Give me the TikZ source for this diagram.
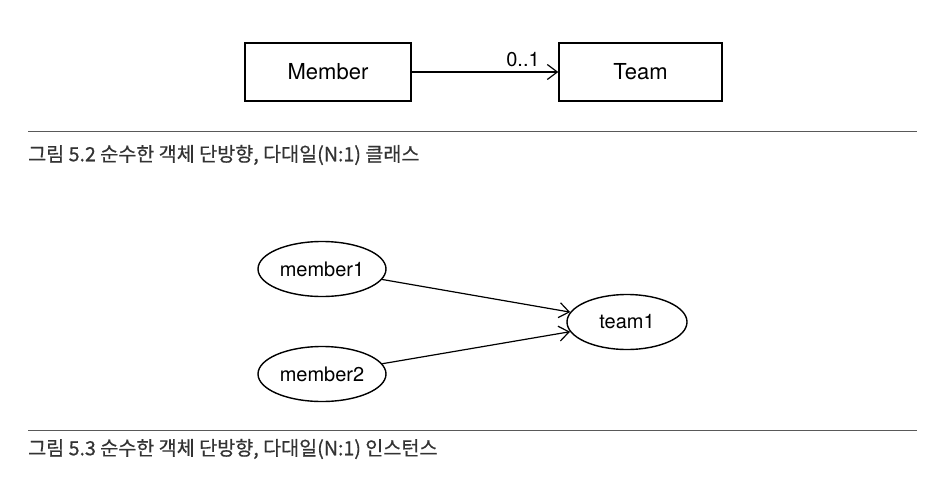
\documentclass[tikz,border=0pt]{standalone}
\usepackage{fontspec}
\setmainfont{TeX Gyre Heros}
\newfontfamily\krfont{Noto Sans CJK KR}[FakeBold=0.6]
\usetikzlibrary{arrows.meta,shapes.geometric}
\begin{document}
\begin{tikzpicture}[x=1pt,y=-1pt,
  cls/.style={draw=black,line width=1.4pt,minimum width=166pt,minimum height=58pt,inner sep=0pt,font=\fontsize{22}{24}\selectfont},
  obj/.style={draw=black,ellipse,line width=1.4pt,inner sep=0pt,font=\fontsize{20}{22}\selectfont},
  conn/.style={line width=1.2pt,-{Straight Barb[length=10pt,width=15pt,line width=1.2pt]}},
  rule/.style={line width=1pt,draw=black!65},
  captext/.style={anchor=west,inner sep=0pt,text=black!80,font=\krfont\fontsize{19.6}{22}\selectfont}]
\useasboundingbox (0,0) rectangle (944,490);
\node[cls] (member) at (328,72) {Member};
\node[cls,minimum width=163pt] (team) at (640.5,72) {Team};
\draw[conn] (member) -- (team);
\node[font=\fontsize{20}{22}\selectfont,anchor=base,inner sep=0pt] (mult) at (523,66) {0..1};
\coordinate (r1a) at (28,131);
\coordinate (r1b) at (917,131);
\draw[rule] (r1a) -- (r1b);
\node[captext] (cap1) at (28,155) {그림 5.2 순수한 객체 단방향, 다대일(N:1) 클래스};
\node[obj,minimum width=128pt,minimum height=55pt] (m1) at (322,269) {member1};
\node[obj,minimum width=128pt,minimum height=55pt] (m2) at (322,374) {member2};
\node[obj,minimum width=120pt,minimum height=55pt] (t1) at (627,322) {team1};
\draw[conn] (m1) -- (t1);
\draw[conn] (m2) -- (t1);
\coordinate (r2a) at (28,430);
\coordinate (r2b) at (917,430);
\draw[rule] (r2a) -- (r2b);
\node[captext] (cap2) at (28,449) {그림 5.3 순수한 객체 단방향, 다대일(N:1) 인스턴스};
\end{tikzpicture}
\end{document}
